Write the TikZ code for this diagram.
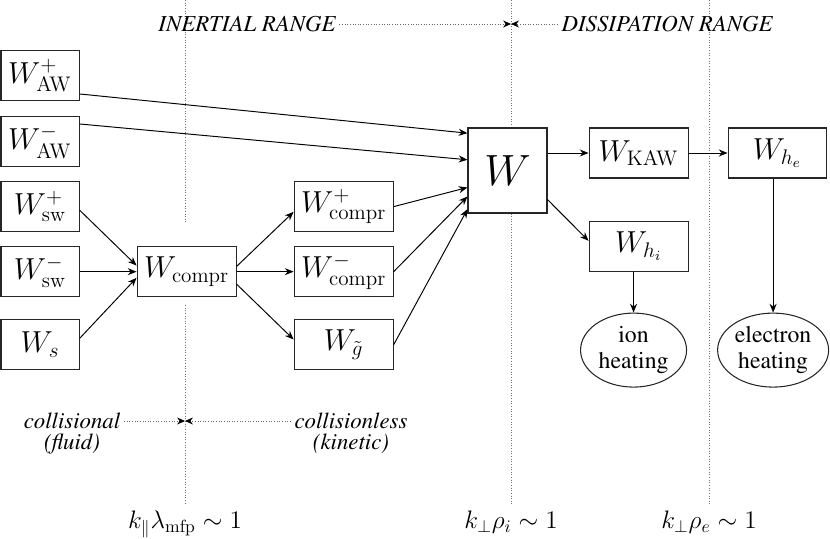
\documentclass[tikz,border=0pt]{standalone}
\usepackage[T1]{fontenc}
\renewcommand{\rmdefault}{ptm}
\usepackage{amsmath,amssymb}
\usepackage{tikz}
\usetikzlibrary{shapes.geometric,arrows.meta,positioning}

\begin{document}
\begin{tikzpicture}[
  node distance=0.28cm and 1.14cm,
  wbox/.style={rectangle, draw=black!85, line width=0.6pt, fill=white,
               minimum width=1.56cm, minimum height=1.0cm, inner sep=2pt,
               align=center, font=\fontsize{17}{20}\selectfont},
  widebox/.style={wbox, minimum width=1.98cm},
  bigbox/.style={wbox, minimum width=1.58cm, minimum height=1.7cm,
               font=\fontsize{33}{36}\selectfont},
  heatnode/.style={ellipse, draw=black!85, line width=0.6pt, inner sep=0pt,
               minimum width=2.12cm, minimum height=1.48cm,
               align=center, font=\fontsize{13.5}{15}\selectfont},
  rangetxt/.style={font=\fontsize{13}{15}\selectfont\itshape, inner sep=2pt},
  klabel/.style={font=\fontsize{14.5}{17}\selectfont, inner sep=0pt},
  darr/.style={-{Stealth[length=5pt,width=4pt]}, line width=0.55pt},
  rarr/.style={-{Stealth[length=4.5pt,width=4pt,color=black]}, densely dotted,
               line width=0.5pt, color=black!60},
  scaleline/.style={densely dotted, line width=0.5pt, color=black!55}
]
\useasboundingbox (0,0) rectangle (16.6,-10.78);

%% scale separations
\coordinate (l1top) at (3.70,0);
\coordinate (l1a)   at (3.70,-4.46);
\coordinate (l1b)   at (3.70,-6.10);
\coordinate (l1bot) at (3.70,-10.1);
\coordinate (l2top) at (10.22,0);
\coordinate (l2bot) at (10.22,-10.1);
\coordinate (l3top) at (14.18,0);
\coordinate (l3bot) at (14.18,-10.1);

\draw[scaleline] (l1top) -- (l1a);
\draw[scaleline] (l1b) -- (l1bot);
\draw[scaleline] (l2top) -- (l2bot);
\draw[scaleline] (l3top) -- (l3bot);

%% inertial range cascade
\node[wbox, anchor=north west] (AWp) at (0.01,-1.0) {$W^+_{\mathrm{AW}}$};
\node[wbox, below=0.3cm of AWp]  (AWm) {$W^-_{\mathrm{AW}}$};
\node[wbox, below=0.28cm of AWm] (swp) {$W^+_{\mathrm{sw}}$};
\node[wbox, below=0.28cm of swp] (swm) {$W^-_{\mathrm{sw}}$};
\node[wbox, below=0.44cm of swm] (Ws)  {$W_s$};

\node[widebox, right=of swm]    (compr)  {$W_{\mathrm{compr}}$};
\node[widebox, right=of compr]  (comprm) {$W^-_{\mathrm{compr}}$};
\node[widebox, above=of comprm] (comprp) {$W^+_{\mathrm{compr}}$};
\node[widebox, below=0.44cm of comprm] (gt) {$W_{\tilde g}$};

\node[bigbox] (W) at (10.15,-3.41) {$W$};

%% dissipation range
\node[widebox, right=0.82cm of W.north east, anchor=north west] (KAW) {$W_{\mathrm{KAW}}$};
\node[wbox, minimum width=1.96cm, right=0.78cm of KAW] (He) {$W_{h_e}$};
\node[widebox, below=0.84cm of KAW] (Hi) {$W_{h_i}$};
\node[heatnode, below=0.82cm of Hi, xshift=-0.1cm] (ion) {ion\\heating};
\node[heatnode, minimum width=2.22cm, right=0.6cm of ion] (elec) {electron\\heating};

%% range labels
\node[rangetxt] (inertial) at (4.94,-0.48)  {INERTIAL RANGE};
\node[rangetxt] (dissip)   at (13.34,-0.48) {DISSIPATION RANGE};
\coordinate (toptip) at (inertial -| l2top);

\node[rangetxt] (coll)    at (1.44,-8.42) {collisional};
\node[rangetxt, below=-0.06cm of coll] (fluid) {(fluid)};
\node[rangetxt] (colless) at (7.02,-8.42) {collisionless};
\node[rangetxt, below=-0.06cm of colless] (kinetic) {(kinetic)};
\coordinate (lowtip) at (coll -| l1bot);

\node[klabel, below=0.12cm of l1bot] (kpar)  {$k_\parallel\lambda_{\mathrm{mfp}}\sim 1$};
\node[klabel, below=0.12cm of l2bot] (kperi) {$k_\perp\rho_i\sim 1$};
\node[klabel, below=0.12cm of l3bot] (kpere) {$k_\perp\rho_e\sim 1$};

%% arrows
\draw[rarr] (inertial) -- (toptip);
\draw[rarr] (dissip) -- (toptip);
\draw[rarr] (coll) -- (lowtip);
\draw[rarr] (colless) -- (lowtip);

\draw[darr] (swp.-5) -- (compr.173);
\draw[darr] (swm) -- (compr);
\draw[darr] (Ws.9) -- (compr.187);

\draw[darr] (compr.6) -- (comprp.186);
\draw[darr] (compr) -- (comprm);
\draw[darr] (compr.-14) -- (gt.174);

\draw[darr] (AWp.-25) -- (W.137);
\draw[darr] (AWm.24) -- (W.165);
\draw[darr] (comprp.east) -- (W.203);
\draw[darr] (comprm.east) -- (W.213);
\draw[darr] (gt.east) -- (W.224);

\draw[darr] (W.east |- KAW.west) -- (KAW.west);
\draw[darr] (KAW) -- (He);
\draw[darr] (W.-36) -- (Hi.174);
\draw[darr] (ion.north |- Hi.south) -- (ion.north);
\draw[darr] (elec.north |- He.south) -- (elec.north);

\end{tikzpicture}
\end{document}
